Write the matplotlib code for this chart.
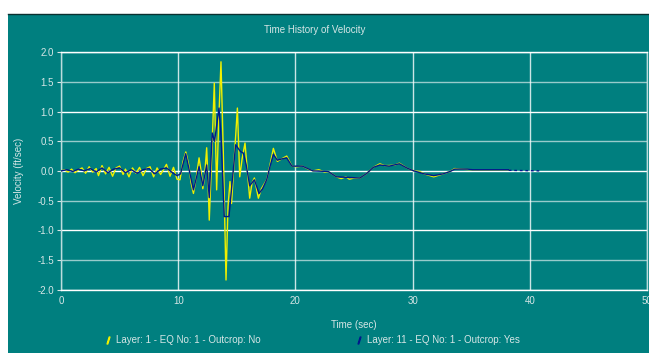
import matplotlib
matplotlib.use("Agg")
import matplotlib.pyplot as plt
from matplotlib.lines import Line2D
from matplotlib.patches import Rectangle

plt.rcParams['font.family'] = ['Liberation Sans', 'DejaVu Sans']

# Layer 1 - outcrop No (yellow)
t_layer1 = [0.0, 0.3, 0.6, 0.9, 1.2, 1.5, 1.8, 2.1, 2.4, 2.7, 3.0, 3.2, 3.5, 3.8, 4.1, 4.4,
            4.7, 5.0, 5.3, 5.5, 5.8, 6.1, 6.4, 6.7, 7.0, 7.3, 7.6, 7.9, 8.2, 8.5, 8.8, 9.0,
            9.3, 9.6, 9.9, 10.15, 10.4, 10.65, 10.9, 11.1, 11.3, 11.55, 11.78, 11.95, 12.1,
            12.25, 12.43, 12.55, 12.65, 12.85, 13.08, 13.28, 13.45, 13.65, 13.85, 14.08,
            14.25, 14.42, 14.55, 14.75, 15.05, 15.25, 15.45, 15.7, 15.9, 16.1, 16.3, 16.5,
            16.84, 17.1, 17.55, 17.8, 18.12, 18.46, 18.8, 19.26, 19.7, 20.1, 20.6, 21.1,
            21.5, 22.0, 22.5, 22.8, 23.2, 23.5, 23.9, 24.3, 24.6, 25.0, 25.5, 26.1, 26.65,
            27.2, 27.6, 28.0, 28.5, 28.87, 29.5, 30.1, 30.6, 31.0, 31.8, 32.6, 33.2, 33.6,
            34.0, 35.1, 38.2]
v_layer1 = [0.0, 0.02, -0.02, 0.03, -0.03, 0.02, 0.05, -0.04, 0.07, -0.02, 0.04, -0.08, 0.09,
            -0.05, 0.06, -0.09, 0.05, 0.08, -0.06, 0.03, -0.1, 0.05, -0.04, 0.06, -0.08, 0.04,
            0.07, -0.1, 0.05, -0.06, 0.04, 0.11, -0.09, 0.06, -0.14, -0.15, 0.15, 0.32, 0.1,
            -0.2, -0.38, -0.1, 0.22, 0.0, -0.3, -0.1, 0.39, -0.2, -0.83, 0.2, 1.48, -0.32,
            0.8, 1.84, 0.3, -1.84, -0.6, -0.18, -0.55, 0.1, 1.06, -0.1, 0.2, 0.47, 0.0, -0.46,
            -0.2, -0.12, -0.46, -0.3, -0.15, 0.07, 0.38, 0.16, 0.2, 0.25, 0.08, 0.07, 0.08,
            0.03, 0.0, 0.02, -0.02, -0.01, -0.06, -0.1, -0.13, -0.1, -0.14, -0.12, -0.12,
            -0.04, 0.06, 0.12, 0.09, 0.09, 0.1, 0.13, 0.05, 0.0, -0.01, -0.05, -0.1, -0.05,
            -0.01, 0.04, 0.03, 0.02, 0.02]

# Layer 11 - outcrop Yes (dark blue)
t_layer11 = [0.0, 0.5, 1.0, 1.5, 2.0, 2.5, 3.0, 3.5, 4.0, 4.5, 5.0, 5.5, 6.0, 6.5, 7.0, 7.5,
             8.0, 8.5, 9.0, 9.5, 9.9, 10.2, 10.64, 11.3, 11.78, 12.1, 12.43, 12.65, 12.9,
             13.1, 13.48, 13.65, 13.93, 14.33, 14.6, 14.9, 15.3, 15.56, 15.8, 16.1, 16.5,
             16.9, 17.2, 17.55, 17.8, 18.12, 18.46, 18.8, 19.26, 19.7, 20.6, 21.5, 22.8,
             23.5, 25.5, 26.1, 26.65, 27.2, 28.0, 28.87, 29.5, 30.1, 31.0, 31.8, 32.6, 33.2,
             33.6, 34.7, 35.1, 38.2]
v_layer11 = [0.0, 0.02, -0.01, 0.03, 0.0, 0.04, -0.02, 0.05, -0.03, 0.03, 0.05, -0.03, 0.02,
             -0.04, 0.02, 0.04, -0.05, 0.03, 0.05, -0.03, -0.08, -0.05, 0.29, -0.32, 0.07,
             -0.25, 0.1, -0.45, 0.64, 0.5, 1.06, 0.6, -0.77, -0.77, -0.2, 0.44, 0.33, 0.3, 0.1,
             -0.25, -0.15, -0.38, -0.3, -0.15, 0.05, 0.28, 0.18, 0.2, 0.22, 0.08, 0.08, 0.0,
             -0.01, -0.1, -0.12, -0.04, 0.06, 0.1, 0.08, 0.12, 0.05, 0.0, -0.05, -0.08, -0.05,
             -0.01, 0.03, 0.03, 0.02, 0.02]
t_tail = [38.2, 40.9]
v_tail = [0.01, 0.0]

labels = ["Layer: 1 - EQ No: 1 - Outcrop: No", "Layer: 11 - EQ No: 1 - Outcrop: Yes"]

bg = '#007f7f'
txt = '#d6e6e6'
yellow = '#f0f000'
blue = '#001a8c'

fig = plt.figure(figsize=(6.49, 3.53), dpi=100, facecolor='white')
fig.patches.append(Rectangle((8 / 649, 0), 641 / 649, 1 - 14 / 353, transform=fig.transFigure,
                             facecolor=bg, edgecolor='none', zorder=-1))
fig.lines.append(Line2D([8 / 649, 1], [1 - 14 / 353, 1 - 14 / 353], transform=fig.transFigure,
                        color='#0a3030', lw=1.0))

ax = fig.add_axes([61 / 649, 1 - 289.5 / 353, 586 / 649, 237.2 / 353])
ax.set_facecolor(bg)

ax.plot(t_layer1, v_layer1, color=yellow, lw=1.0, zorder=3)
ax.plot(t_layer11, v_layer11, color=blue, lw=1.0, zorder=4)
ax.plot(t_tail, v_tail, color=blue, lw=1.0, ls=(0, (2, 2)), zorder=4)

ax.set_xlim(0, 50)
ax.set_ylim(-2.0, 2.0)
ax.set_xticks(range(0, 51, 10))
ax.set_yticks([-2.0, -1.5, -1.0, -0.5, 0.0, 0.5, 1.0, 1.5, 2.0])
ax.set_yticklabels([f"{v:.1f}" for v in ax.get_yticks()])

ax.grid(True, color='white', lw=1.0)
for i, gl in enumerate(ax.get_ygridlines()):
    gl.set_alpha(1.0 if i % 2 == 0 else 0.6)
for gl in ax.get_xgridlines():
    gl.set_alpha(0.8)

for s in ax.spines.values():
    s.set_color('#bcdcdc')
    s.set_linewidth(1.0)
ax.spines['bottom'].set_color('white')
ax.spines['top'].set_color('white')
ax.tick_params(colors=txt, labelsize=7, length=3, width=0.8, pad=2)
ax.tick_params(axis='x', length=0, pad=5)

ax.set_xlabel("Time (sec)", color=txt, fontsize=7, labelpad=10)
ax.set_ylabel("Velocity (ft/sec)", color=txt, fontsize=7, labelpad=10)
fig.text(315 / 649, 1 - 30 / 353, "Time History of Velocity", color=txt, fontsize=7,
         ha='center', va='center')

handles = [Line2D([], [], color=yellow, ls='none', marker='$/$', markersize=5),
           Line2D([], [], color=blue, ls='none', marker='$/$', markersize=5)]
fig.legend(handles, labels, loc='center', bbox_to_anchor=(312 / 649, 1 - 340 / 353), ncol=2,
           frameon=False, fontsize=7, labelcolor=txt, handlelength=0.8, handletextpad=0.4,
           columnspacing=9.8)

fig.savefig("out.png", dpi=100, facecolor='white')
